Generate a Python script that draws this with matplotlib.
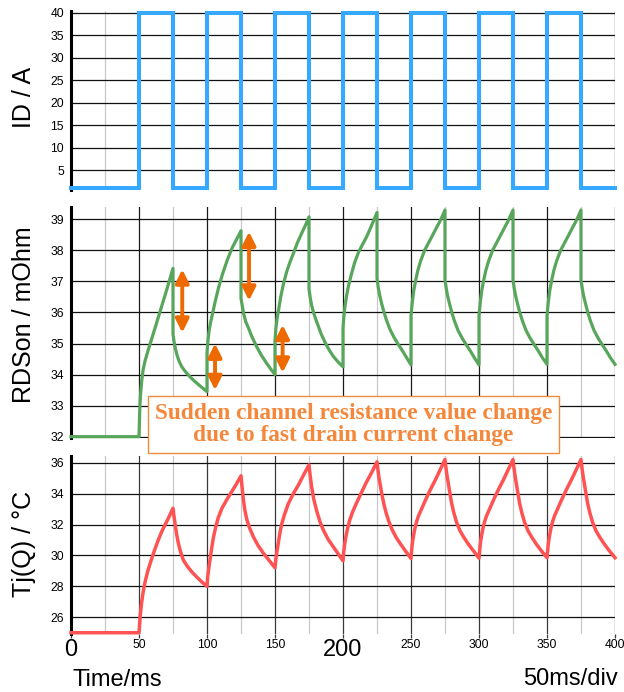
import matplotlib
matplotlib.use('Agg')
import matplotlib.pyplot as plt
from matplotlib.patches import FancyArrowPatch
from matplotlib.ticker import MultipleLocator, FixedLocator

plt.rcParams['font.family'] = ['Liberation Sans', 'DejaVu Sans']

# ---------------- data ----------------
id_t = [0, 50, 75, 100, 125, 150, 175, 200, 225, 250, 275, 300, 325, 350, 375, 400]
id_v = [1, 40, 1, 40, 1, 40, 1, 40, 1, 40, 1, 40, 1, 40, 1, 1]

rds_t = [0, 50,
         50.5, 51, 52, 53, 54.5, 56.5, 59, 62.5, 66, 70.5, 75,
         75, 75.8, 76.7, 78, 79.5, 81.5, 84, 87, 90.5, 95, 100,
         100, 100.7, 101.5, 102.5, 104, 106, 108.5, 111.5, 115, 118.5, 122, 125,
         125, 126, 127, 128.5, 130.5, 133, 136.5, 140, 143.9, 147, 150,
         150, 150.7, 151.5, 152.7, 154.2, 156.1, 158.5, 161, 163.5, 166.5, 169.6, 172.5, 175,
         175, 176, 177, 178.2, 179.5, 181.5, 184, 187, 190, 193, 196.5, 200,
         200, 200.7, 201.6, 202.7, 204, 206, 208.5, 211.5, 214.5, 217.5, 221, 225,
         225, 226, 227, 228.5, 230, 232, 234.5, 237.5, 240.5, 243.5, 246.5, 250,
         250, 251, 252, 253.5, 255, 257, 260, 263, 266, 269, 272, 275,
         275, 276, 277, 278.5, 280, 282, 284.5, 287.5, 290.5, 293.5, 296.5, 300,
         300, 301, 302, 303.5, 305, 307, 310, 313, 316, 319, 322, 325,
         325, 326, 327, 328.5, 330, 332, 334.5, 337.5, 340.5, 343.5, 346.5, 350,
         350, 351, 352, 353.5, 355, 357, 360, 363, 366, 369, 372, 375,
         375, 376, 377, 378.5, 380, 382, 384.5, 387.5, 390.5, 393.5, 396.5, 400]
rds_v = [32, 32,
         32.8, 33.3, 33.8, 34.15, 34.45, 34.75, 35.1, 35.6, 36.1, 36.75, 37.42,
         35.3, 35.05, 34.85, 34.62, 34.43, 34.25, 34.1, 33.95, 33.8, 33.63, 33.45,
         34.7, 35.1, 35.4, 35.65, 35.95, 36.35, 36.8, 37.25, 37.7, 38.08, 38.38, 38.63,
         36.45, 36.2, 35.95, 35.7, 35.5, 35.22, 34.9, 34.62, 34.36, 34.17, 34.0,
         35.1, 35.5, 35.8, 36.1, 36.5, 36.9, 37.3, 37.62, 37.9, 38.25, 38.55, 38.82, 39.08,
         36.75, 36.45, 36.22, 36.02, 35.84, 35.6, 35.3, 35.02, 34.78, 34.58, 34.4, 34.25,
         35.5, 35.9, 36.25, 36.55, 36.85, 37.2, 37.6, 37.95, 38.2, 38.45, 38.8, 39.22,
         37.1, 36.78, 36.55, 36.27, 36.03, 35.75, 35.46, 35.2, 34.98, 34.78, 34.56, 34.31,
         35.9, 36.35, 36.7, 37.05, 37.35, 37.65, 38.0, 38.25, 38.5, 38.75, 39.0, 39.3,
         37.05, 36.75, 36.52, 36.25, 36.0, 35.72, 35.43, 35.18, 34.97, 34.77, 34.55, 34.31,
         35.9, 36.35, 36.7, 37.05, 37.35, 37.65, 38.0, 38.25, 38.5, 38.75, 39.0, 39.3,
         37.05, 36.75, 36.52, 36.25, 36.0, 35.72, 35.43, 35.18, 34.97, 34.77, 34.55, 34.33,
         35.9, 36.35, 36.7, 37.05, 37.35, 37.65, 38.0, 38.25, 38.5, 38.75, 39.0, 39.3,
         37.05, 36.75, 36.52, 36.25, 36.0, 35.72, 35.43, 35.18, 34.97, 34.77, 34.55, 34.33]

tj_t = [0, 50,
        50.5, 51, 52, 53, 54.5, 56.5, 59, 61.5, 64.2, 67, 71, 75,
        75.7, 76.5, 77.6, 78.9, 80.5, 82.6, 85.5, 88.7, 92.5, 96, 100,
        100.5, 101.2, 102.2, 103.4, 104.7, 106.3, 108.3, 111, 114.5, 118, 121.5, 125,
        125.8, 126.7, 127.8, 129.2, 131.2, 134.1, 137.5, 141.4, 145.5, 150,
        150.6, 151.5, 152.5, 153.7, 155, 156.8, 159.8, 163.5, 167.2, 171, 175,
        175.8, 176.9, 178.6, 180.6, 183, 185.5, 189, 192.9, 196.5, 200,
        200.5, 201.2, 202.2, 203.5, 205, 207, 210, 213.5, 217, 221, 225,
        225.8, 226.6, 227.5, 228.6, 230, 231.7, 233.7, 236.2, 239.2, 242.2, 246, 250,
        250.5, 251, 252, 253, 254, 255.5, 258, 261, 264.5, 268, 271.5, 275,
        275.8, 276.6, 277.4, 278.5, 279.8, 281.5, 283.5, 286, 289, 292, 296, 300,
        300.5, 301, 302, 303, 304, 305.5, 308, 311, 314.5, 318, 321.5, 325,
        325.8, 326.6, 327.4, 328.5, 329.8, 331.5, 333.5, 336, 339, 342, 346, 350,
        350.5, 351, 352, 353, 354, 355.5, 358, 361, 364.5, 368, 371.5, 375,
        375.8, 376.6, 377.4, 378.5, 379.8, 381.5, 383.5, 386, 389, 392, 396, 400]
tj_v = [25, 25,
        25.6, 26.2, 27.0, 27.6, 28.3, 29.0, 29.7, 30.35, 31.0, 31.6, 32.3, 33.05,
        32.55, 32.05, 31.4, 30.8, 30.25, 29.7, 29.3, 28.95, 28.6, 28.3, 28.0,
        28.6, 29.1, 29.7, 30.45, 31.15, 31.8, 32.45, 33.05, 33.6, 34.1, 34.6, 35.15,
        34.4, 33.65, 32.95, 32.35, 31.8, 31.2, 30.65, 30.15, 29.7, 29.2,
        29.75, 30.3, 30.85, 31.5, 32.05, 32.6, 33.35, 34.0, 34.55, 35.2, 35.86,
        35.2, 34.45, 33.6, 32.9, 32.2, 31.65, 31.05, 30.55, 30.1, 29.65,
        30.2, 30.7, 31.25, 31.8, 32.3, 32.8, 33.4, 34.05, 34.7, 35.35, 36.05,
        35.45, 34.95, 34.5, 33.95, 33.35, 32.75, 32.2, 31.65, 31.15, 30.75, 30.28, 29.8,
        30.35, 30.8, 31.35, 31.8, 32.15, 32.55, 33.05, 33.65, 34.3, 34.9, 35.55, 36.2,
        35.6, 35.1, 34.67, 34.05, 33.4, 32.75, 32.15, 31.6, 31.15, 30.75, 30.28, 29.82,
        30.35, 30.8, 31.35, 31.8, 32.15, 32.55, 33.05, 33.65, 34.3, 34.9, 35.55, 36.2,
        35.6, 35.1, 34.67, 34.05, 33.4, 32.75, 32.15, 31.6, 31.15, 30.75, 30.28, 29.85,
        30.35, 30.8, 31.35, 31.8, 32.15, 32.55, 33.05, 33.65, 34.3, 34.9, 35.55, 36.2,
        35.6, 35.1, 34.67, 34.05, 33.4, 32.75, 32.15, 31.6, 31.15, 30.75, 30.28, 29.85]

id_yticks = [5, 10, 15, 20, 25, 30, 35, 40]
rds_yticks = [32, 33, 34, 35, 36, 37, 38, 39]
tj_yticks = [26, 28, 30, 32, 34, 36]
x_ticks = [0, 50, 100, 150, 200, 250, 300, 350, 400]
x_ticklabels = ['0', '50', '100', '150', '200', '250', '300', '350', '400']
big_ticklabels = ['0', '200']

arrow_t = [81.8, 105.9, 130.9, 155.6]
arrow_top = [37.39, 35.0, 38.6, 35.6]
arrow_bot = [35.35, 33.5, 36.38, 34.06]

note_text = "Sudden channel resistance value change\ndue to fast drain current change"

# ---------------- figure ----------------
W, H = 624, 692
fig = plt.figure(figsize=(W / 100, H / 100), dpi=100)

def add_ax(top_px, bot_px):
    left = 71 / W
    width = 544 / W
    return fig.add_axes([left, 1 - bot_px / H, width, (bot_px - top_px) / H])

ax1 = add_ax(11.2, 189.8)
ax2 = add_ax(206.9, 437.6)
ax3 = add_ax(455.7, 633.5)

ylims = [(0.6, 40.4), (31.97, 39.4), (24.95, 36.45)]
yticks = [id_yticks, rds_yticks, tj_yticks]
vmaj_colors = ['#1a1a1a', '#1a1a1a', '#3a3a3a']

for ax, yl, yt, vc in zip([ax1, ax2, ax3], ylims, yticks, vmaj_colors):
    ax.set_xlim(0, 400)
    ax.set_ylim(*yl)
    ax.set_yticks(yt)
    ax.xaxis.set_major_locator(FixedLocator(x_ticks))
    ax.xaxis.set_minor_locator(MultipleLocator(25))
    ax.set_axisbelow(True)
    ax.grid(axis='y', which='major', color='#111111', lw=0.9)
    ax.grid(axis='x', which='major', color=vc, lw=0.9)
    ax.grid(axis='x', which='minor', color='#c8c8c8', lw=0.9)
    for s in ['top', 'right', 'bottom']:
        ax.spines[s].set_visible(False)
    ax.spines['left'].set_linewidth(2.2)
    ax.spines['left'].set_color('black')
    ax.tick_params(axis='y', length=0, pad=5, labelsize=8.7)
    ax.tick_params(axis='x', which='both', length=0, labelbottom=False)
    ax.patch.set_alpha(0)

ax3.tick_params(axis='x', which='major', length=3, width=0.9, color='#3a3a3a',
                pad=1, labelbottom=True, labelsize=8.7)
ax3.set_xticklabels(x_ticklabels)
for lab in ax3.get_xticklabels():
    if lab.get_text() in big_ticklabels:
        lab.set_fontsize(17)

ax1.plot(id_t, id_v, drawstyle='steps-post', color='#35a9ff', lw=2.9,
         clip_on=False, solid_joinstyle='miter', zorder=3)
ax2.plot(rds_t, rds_v, color='#58a65c', lw=2.3, clip_on=False, zorder=3,
         solid_joinstyle='round')
ax3.plot(tj_t, tj_v, color='#ff5252', lw=2.5, clip_on=False, zorder=3,
         solid_joinstyle='round')

for t, top, bot in zip(arrow_t, arrow_top, arrow_bot):
    ar = FancyArrowPatch((t, bot), (t, top),
                         arrowstyle='<|-|>,head_length=8,head_width=4',
                         mutation_scale=1, lw=2.8, color='#ee6a00',
                         shrinkA=0, shrinkB=0, clip_on=False, zorder=4)
    ax2.add_patch(ar)

# y labels
ylab_kw = dict(rotation=90, rotation_mode='anchor', ha='center', va='baseline',
               fontsize=18)
fig.text(30.7 / W, 1 - 97.5 / H, 'ID / A', **ylab_kw)
fig.text(31.2 / W, 1 - 315 / H, 'RDSon / mOhm', **ylab_kw)
fig.text(30.7 / W, 1 - 544 / H, 'Tj(Q) / °C', **ylab_kw)

fig.text(72.7 / W, 1 - 686 / H, 'Time/ms', ha='left', va='baseline', fontsize=17)
fig.text(618 / W, 1 - 685 / H, '50ms/div', ha='right', va='baseline', fontsize=17)

fig.text(353.5 / W, 1 - 424.2 / H, note_text, ha='center', va='center',
         multialignment='center', fontsize=16.8, fontweight='bold',
         family=['Liberation Serif', 'DejaVu Serif'], color='#f5873a',
         linespacing=1.05, zorder=10,
         bbox=dict(boxstyle='square,pad=0.3', fc='white', ec='#f08a3c', lw=1.0))

fig.savefig('out.png', dpi=100)
